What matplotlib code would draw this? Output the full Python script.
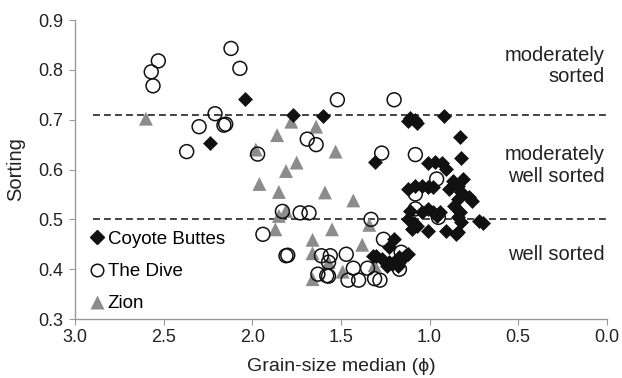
import matplotlib
matplotlib.use("Agg")
import matplotlib.pyplot as plt
from matplotlib.lines import Line2D

plt.rcParams['font.family'] = ['Liberation Sans', 'DejaVu Sans']

# Coyote Buttes (black diamonds)
cb_x = [2.04, 2.24, 1.77, 1.60, 1.31, 1.11, 1.08, 1.12, 1.07, 0.92, 0.83, 0.82,
        1.01, 0.97, 0.93, 0.91,
        1.12, 1.08, 1.04, 1.01, 0.98,
        0.87, 0.84, 0.81, 0.89, 0.82, 0.78, 0.76, 0.84, 0.86, 0.83, 0.84, 0.82,
        0.84, 0.85, 0.91, 0.72, 0.70,
        1.11, 1.12, 1.09, 1.07, 1.04, 1.01, 0.98, 0.96, 0.94, 1.01, 1.10,
        1.20, 1.23, 1.30, 1.27, 1.23, 1.21, 1.19, 1.17, 1.14, 1.12, 1.32, 1.24, 1.17, 1.18]
cb_y = [0.742, 0.653, 0.710, 0.708, 0.615, 0.704, 0.700, 0.698, 0.693, 0.708, 0.666, 0.624,
        0.614, 0.616, 0.614, 0.601,
        0.561, 0.567, 0.567, 0.564, 0.564,
        0.577, 0.567, 0.581, 0.560, 0.554, 0.544, 0.537, 0.540, 0.527, 0.514, 0.504, 0.494,
        0.474, 0.470, 0.477, 0.497, 0.492,
        0.517, 0.500, 0.493, 0.487, 0.514, 0.520, 0.514, 0.507, 0.514, 0.477, 0.480,
        0.460, 0.444, 0.427, 0.420, 0.414, 0.410, 0.417, 0.424, 0.427, 0.430, 0.427, 0.407, 0.414, 0.407]

# The Dive (open circles)
dv_x = [2.12, 2.53, 2.57, 2.56, 2.07, 1.52, 1.20, 2.21, 2.30, 2.16, 2.15, 2.37, 1.97,
        1.69, 1.64, 1.27, 1.08, 0.96, 1.08, 1.08, 0.95, 1.83, 1.73, 1.68, 1.33, 1.94,
        1.26, 1.81, 1.80, 1.61, 1.56, 1.47, 1.57, 1.63, 1.58, 1.57, 1.43, 1.46, 1.40,
        1.35, 1.31, 1.28, 1.17, 1.16]
dv_y = [0.843, 0.818, 0.796, 0.768, 0.803, 0.740, 0.740, 0.712, 0.686, 0.689, 0.691, 0.636, 0.631,
        0.661, 0.650, 0.633, 0.630, 0.581, 0.551, 0.521, 0.504, 0.516, 0.513, 0.513, 0.500, 0.470,
        0.460, 0.427, 0.428, 0.427, 0.427, 0.430, 0.414, 0.390, 0.387, 0.386, 0.402, 0.378, 0.378,
        0.402, 0.381, 0.378, 0.400, 0.434]

# Zion (gray triangles)
zi_x = [2.60, 1.78, 1.64, 1.86, 1.98, 1.53, 1.75, 1.81, 1.96, 1.85, 1.59, 1.43,
        1.85, 1.81, 1.87, 1.55, 1.34, 1.66, 1.66, 1.38, 1.57, 1.31, 1.49, 1.66]
zi_y = [0.702, 0.696, 0.686, 0.669, 0.640, 0.636, 0.614, 0.597, 0.571, 0.555, 0.554, 0.538,
        0.507, 0.517, 0.480, 0.480, 0.489, 0.459, 0.432, 0.449, 0.414, 0.408, 0.395, 0.380]

thresholds = [0.71, 0.50]
class_labels = ["moderately\nsorted", "moderately\nwell sorted", "well sorted"]
class_y = [0.808, 0.608, 0.43]

fig = plt.figure(figsize=(6.22, 3.78), dpi=100)
ax = fig.add_axes([0.1206, 0.156, 0.855, 0.791])

ax.scatter(cb_x, cb_y, marker='D', s=50, color='#111111', edgecolors='#111111', linewidths=0.5, zorder=3)
ax.scatter(dv_x, dv_y, marker='o', s=100, facecolors='none', edgecolors='#111111', linewidths=1.1, zorder=4)
ax.scatter(zi_x, zi_y, marker='^', s=100, color='#8c8c8c', edgecolors='none', zorder=2)

for t in thresholds:
    ax.plot([2.9, 0.0], [t, t], linestyle=(0, (4.5, 2.7)), color='#111111', linewidth=1.1, zorder=1)

for lab, yy in zip(class_labels, class_y):
    ax.text(0.01, yy, lab, ha='right', va='center', fontsize=14.5, color='#222222', linespacing=1.15)

ax.set_xlim(3.0, 0.0)
ax.set_ylim(0.3, 0.9)
ax.set_xticks([3.0, 2.5, 2.0, 1.5, 1.0, 0.5, 0.0])
ax.set_xticklabels(['3.0', '2.5', '2.0', '1.5', '1.0', '0.5', '0.0'])
ax.set_yticks([0.3, 0.4, 0.5, 0.6, 0.7, 0.8, 0.9])
ax.set_yticklabels(['0.3', '0.4', '0.5', '0.6', '0.7', '0.8', '0.9'])
for s in ['top', 'right']:
    ax.spines[s].set_visible(False)
for s in ['left', 'bottom']:
    ax.spines[s].set_color('#999999')
    ax.spines[s].set_linewidth(1.0)
ax.tick_params(axis='both', colors='#999999', labelcolor='#222222', labelsize=13, length=4.5, direction='out')
ax.tick_params(axis='x', pad=3)
ax.tick_params(axis='y', pad=4)
ax.set_xlabel('Grain-size median (ϕ)', fontsize=14, color='#222222', labelpad=8)
ax.set_ylabel('Sorting', fontsize=14.5, color='#222222', labelpad=9)

handles = [
    Line2D([], [], marker='D', linestyle='none', color='#111111', markersize=7),
    Line2D([], [], marker='o', linestyle='none', markerfacecolor='none', markeredgecolor='#111111',
           markeredgewidth=1.1, markersize=9),
    Line2D([], [], marker='^', linestyle='none', color='#8c8c8c', markeredgecolor='none', markersize=10),
]
ax.legend(handles, ['Coyote Buttes', 'The Dive', 'Zion'], loc='lower left', bbox_to_anchor=(0.012, 0.0),
          frameon=False, fontsize=13.5, handletextpad=0.05, handlelength=1.0, labelspacing=0.81,
          borderaxespad=0.05, borderpad=0.3)

fig.savefig('out.png', dpi=100)
